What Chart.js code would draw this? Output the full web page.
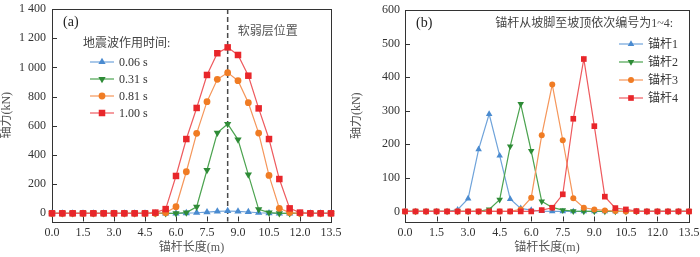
<!DOCTYPE html>
<html><head><meta charset="utf-8">
<script src="https://cdn.jsdelivr.net/npm/chart.js@4/dist/chart.umd.min.js"></script>
<style>
html,body{margin:0;padding:0;background:#fff;width:700px;height:257px;overflow:hidden}
.w{position:absolute;top:0;width:350px;height:257px}
#wa{left:0} #wb{left:350px}
canvas{display:block}
</style></head><body>
<div class="w" id="wa"><canvas id="ca" width="350" height="257"></canvas></div>
<div class="w" id="wb"><canvas id="cb" width="350" height="257"></canvas></div>
<script>
// ---------- data ----------
const lengthsM = [0,0.5,1,1.5,2,2.5,3,3.5,4,4.5,5,5.5,6,6.5,7,7.5,8,8.5,9,9.5,10,10.5,11,11.5,12,12.5,13,13.5];
const xTickValues = [0,1.5,3,4.5,6,7.5,9,10.5,12,13.5];
const yTicksA = [0,200,400,600,800,1000,1200,1400];
const yTicksB = [0,100,200,300,400,500,600];

const labelsA = ['0.06 s','0.31 s','0.81 s','1.00 s'];
const forceA_t006 = [0,0,0,0,0,0,0,0,0,0,0,0,0,2,4,8,13,16,13,9,4,1,0,0,0,0,0,0];
const forceA_t031 = [0,0,0,0,0,0,0,0,0,0,0,0,0,5,45,297,552,612,505,265,27,5,0,0,0,0,0,0];
const forceA_t081 = [0,0,0,0,0,0,0,0,0,0,0,4,45,285,548,765,918,964,909,758,550,260,34,5,0,0,0,0];
const forceA_t100 = [0,0,0,0,0,0,0,0,0,0,5,29,256,509,722,948,1097,1137,1085,943,719,509,235,34,5,0,0,0];
const weakLayerX = 8.5;

const labelsB = ['锚杆1','锚杆2','锚杆3','锚杆4'];
const forceB_a1 = [0,0,0,0,0,5,38,185,290,166,37,9,4,1,0,0,0,0,0,0,0,0,0,0,0,0,0,0];
const forceB_a2 = [0,0,0,0,0,0,0,0,6,35,194,320,180,30,12,4,1,0,0,0,0,0,0,0,0,0,0,0];
const forceB_a3 = [0,0,0,0,0,0,0,0,0,0,0,6,41,227,378,212,39,11,6,3,1,0,0,0,0,0,0,0];
const forceB_a4 = [0,0,0,0,0,0,0,0,0,0,0,0,0,4,11,51,276,454,254,44,10,6,1,0,0,0,0,0];

// ---------- styles ----------
const SERIF = "'Liberation Serif','Noto Sans CJK SC',serif";
const CJK = "'Liberation Serif','Noto Sans CJK SC',sans-serif";
const styles = [
  {marker:'#4A8BD0', line:'#6FA3DA', shape:'triangle', rot:0},
  {marker:'#2E8B36', line:'#4BA34F', shape:'triangle', rot:180},
  {marker:'#F07C24', line:'#F5965A', shape:'circle', rot:0},
  {marker:'#E8262A', line:'#EE5A5E', shape:'rect', rot:0}
];
const sizesA = {triangle:4.2, circle:3.4, rect:4.6};
const sizesB = {triangle:3.8, circle:3.0, rect:4.0};

function drawMarker(ctx, shape, r, rot, x, y, color){
  ctx.save();
  ctx.fillStyle = color;
  ctx.beginPath();
  if (shape === 'circle') { ctx.arc(x, y, r, 0, Math.PI*2); }
  else if (shape === 'rect') { const s = r*Math.SQRT1_2; ctx.rect(x-s, y-s, 2*s, 2*s); }
  else {
    const sgn = rot === 180 ? -1 : 1;
    const a = r*Math.sqrt(3)/2;
    ctx.moveTo(x, y - sgn*r);
    ctx.lineTo(x + a, y + sgn*r/2);
    ctx.lineTo(x - a, y + sgn*r/2);
    ctx.closePath();
  }
  ctx.fill();
  ctx.restore();
}

function makeDatasets(series, labels, sizes){
  return series.map((vals, i) => ({
    label: labels[i],
    data: lengthsM.map((x, j) => ({x: x, y: vals[j]})),
    borderColor: styles[i].line,
    backgroundColor: styles[i].marker,
    pointBackgroundColor: styles[i].marker,
    pointBorderColor: styles[i].marker,
    pointBorderWidth: 0,
    pointStyle: styles[i].shape,
    pointRotation: styles[i].rot,
    pointRadius: sizes[styles[i].shape],
    borderWidth: 1.2,
    tension: 0,
    clip: false,
    order: 4 - i
  }));
}

function fmtThousands(v){
  if (v >= 1000) return Math.floor(v/1000) + ' ' + String(v % 1000).padStart(3, '0');
  return String(v);
}

function deco(cfg){
  return {
    id: 'deco',
    beforeDatasetsDraw(chart){
      const ctx = chart.ctx, ca = chart.chartArea;
      const xs = chart.scales.x, ys = chart.scales.y;
      ctx.save();
      if (cfg.weakX !== undefined){
        const px = xs.getPixelForValue(cfg.weakX);
        ctx.strokeStyle = '#4a4a4a'; ctx.lineWidth = 1.5; ctx.setLineDash([5,3]);
        ctx.beginPath(); ctx.moveTo(px, ca.top); ctx.lineTo(px, ca.bottom); ctx.stroke();
        ctx.setLineDash([]);
        ctx.fillStyle = '#555'; ctx.font = '12px ' + CJK; ctx.textBaseline = 'middle'; ctx.textAlign = 'left';
        ctx.fillText(cfg.weakText, px + 10, ca.top + 23);
      }
      // frame
      ctx.strokeStyle = '#333'; ctx.lineWidth = 1;
      ctx.strokeRect(Math.round(ca.left)+0.5, Math.round(ca.top)+0.5, Math.round(ca.right-ca.left), Math.round(ca.bottom-ca.top));
      // inward ticks
      ctx.beginPath();
      ys.ticks.forEach(t => { const py = Math.round(ys.getPixelForValue(t.value))+0.5; ctx.moveTo(ca.left, py); ctx.lineTo(ca.left+5, py); });
      xs.ticks.forEach(t => { const px = Math.round(xs.getPixelForValue(t.value))+0.5; ctx.moveTo(px, ca.bottom); ctx.lineTo(px, ca.bottom-5); });
      ctx.stroke();
      ctx.restore();
    },
    afterDraw(chart){
      const ctx = chart.ctx, ca = chart.chartArea;
      ctx.save();
      ctx.textBaseline = 'middle';
      // panel label
      ctx.fillStyle = '#222'; ctx.font = '14px ' + SERIF; ctx.textAlign = 'left';
      ctx.fillText(cfg.panel, ca.left + 11, ca.top + 13);
      // legend title
      ctx.font = '12px ' + CJK; ctx.fillStyle = '#444';
      if (cfg.legAlign === 'right') { ctx.textAlign = 'right'; ctx.fillText(cfg.legTitle, ca.right - 16, ca.top + 14); }
      else { ctx.textAlign = 'left'; ctx.fillText(cfg.legTitle, ca.left + 31, ca.top + 35); }
      // entries
      const lx1 = cfg.legAlign === 'right' ? ca.right - 70 : ca.left + 38;
      const y0 = cfg.legAlign === 'right' ? ca.top + 34 : ca.top + 53;
      const step = cfg.legAlign === 'right' ? 18 : 17;
      cfg.labels.forEach((lab, i) => {
        const y = y0 + i*step;
        const st = styles[i];
        ctx.strokeStyle = st.line; ctx.lineWidth = 1.2;
        ctx.beginPath(); ctx.moveTo(lx1, y); ctx.lineTo(lx1 + 24, y); ctx.stroke();
        drawMarker(ctx, st.shape, cfg.sizes[st.shape], st.rot, lx1 + 12, y, st.marker);
        ctx.fillStyle = '#333'; ctx.textAlign = 'left';
        ctx.font = '12px ' + (cfg.legAlign === 'right' ? CJK : SERIF);
        ctx.fillText(lab, lx1 + 29, y + 1);
      });
      ctx.restore();
    }
  };
}

function makeChart(canvasId, p){
  return new Chart(document.getElementById(canvasId), {
    type: 'line',
    data: { datasets: makeDatasets(p.series, p.labels, p.sizes) },
    options: {
      responsive: false, animation: false, devicePixelRatio: 1,
      layout: { padding: { left: 0, right: p.padRight, top: p.padTop, bottom: 0 } },
      plugins: { legend: { display: false }, tooltip: { enabled: false } },
      scales: {
        x: {
          type: 'linear', min: 0, max: 13.5,
          afterBuildTicks: s => { s.ticks = xTickValues.map(v => ({value: v})); },
          afterFit: s => { s.height = 35.5; s.paddingLeft = 0; s.paddingRight = 0; },
          ticks: { callback: v => Number(v).toFixed(1), font: { family: SERIF, size: 12 }, color: '#333', padding: 4, maxRotation: 0, autoSkip: false },
          grid: { display: false, drawTicks: false }, border: { display: false },
          title: { display: true, text: '锚杆长度(m)', font: { family: CJK, size: 12 }, color: '#555', padding: { top: 0, bottom: 2 } }
        },
        y: {
          type: 'linear', min: p.yMin, max: p.yMax,
          afterBuildTicks: s => { s.ticks = p.yTicks.map(v => ({value: v})); },
          afterFit: s => { s.width = p.yWidth; s.paddingTop = 0; s.paddingBottom = 0; },
          ticks: { callback: v => fmtThousands(v), font: { family: SERIF, size: 12 }, color: '#333', padding: p.tickPad },
          grid: { display: false, drawTicks: false }, border: { display: false },
          title: { display: true, text: '轴力(kN)', font: { family: CJK, size: 12 }, color: '#555', padding: { top: 0, bottom: 0 } }
        }
      }
    },
    plugins: [deco(p.deco)]
  });
}

makeChart('ca', {
  series: [forceA_t006, forceA_t031, forceA_t081, forceA_t100], labels: labelsA, sizes: sizesA,
  padRight: 19, padTop: 9, yMin: -56, yMax: 1400, yTicks: yTicksA, yWidth: 52, tickPad: 6,
  deco: { panel: '(a)', legTitle: '地震波作用时间:', legAlign: 'left', labels: labelsA, sizes: sizesA, weakX: weakLayerX, weakText: '软弱层位置' }
});
makeChart('cb', {
  series: [forceB_a1, forceB_a2, forceB_a3, forceB_a4], labels: labelsB, sizes: sizesB,
  padRight: 11, padTop: 10, yMin: -30, yMax: 600, yTicks: yTicksB, yWidth: 55, tickPad: 5,
  deco: { panel: '(b)', legTitle: '锚杆从坡脚至坡顶依次编号为1~4:', legAlign: 'right', labels: labelsB, sizes: sizesB }
});
</script>
</body></html>
